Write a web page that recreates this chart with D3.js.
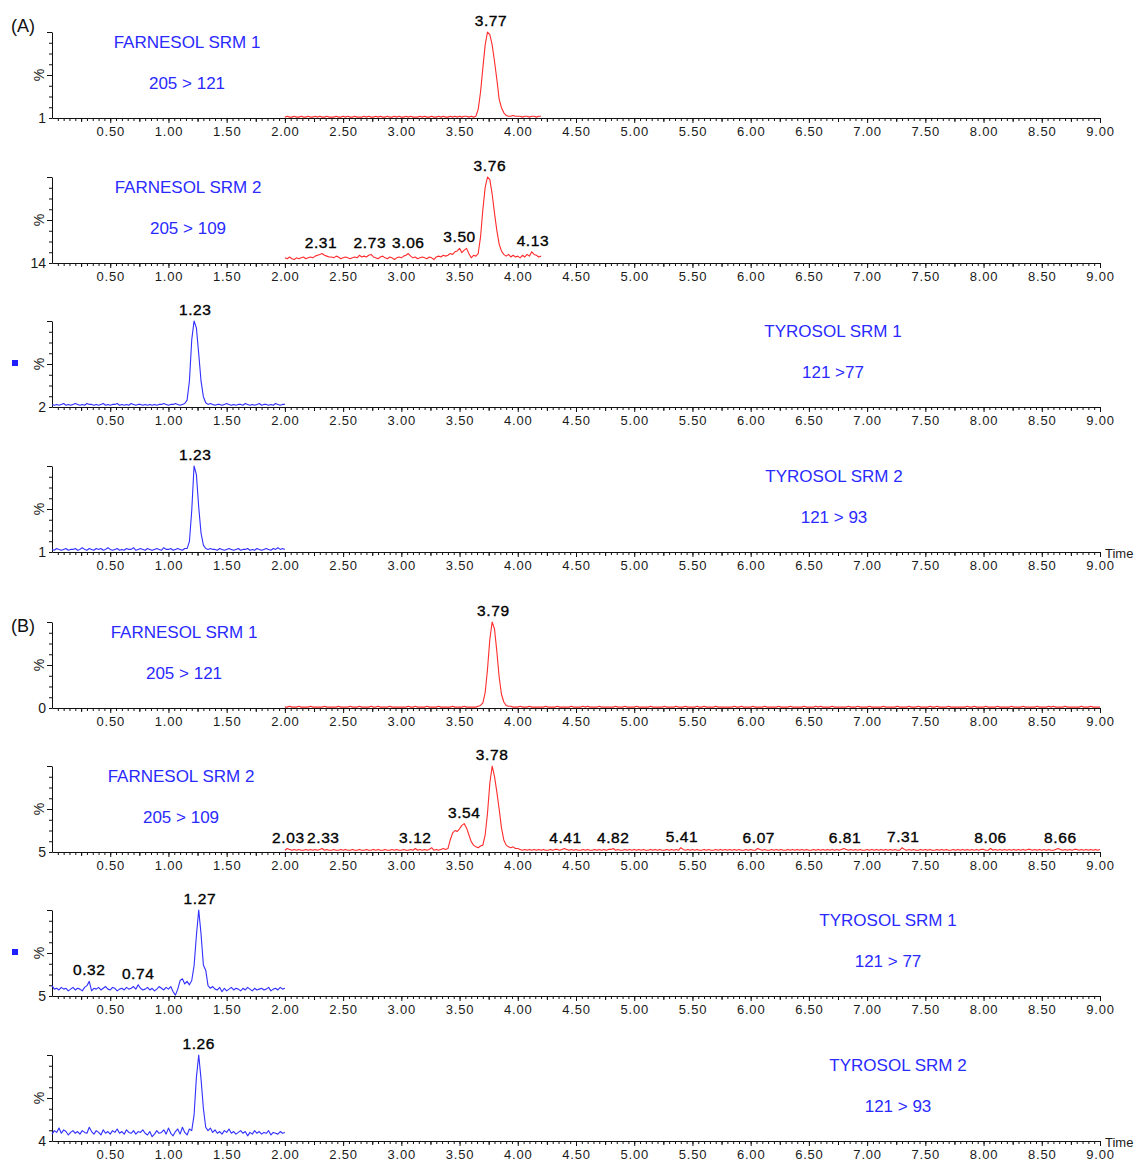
<!DOCTYPE html>
<html><head><meta charset="utf-8">
<script src="https://cdn.jsdelivr.net/npm/d3@7"></script>
<style>
body{margin:0;background:#fff;}
svg{display:block;font-family:"Liberation Sans",Arial,sans-serif;}
</style>
</head><body>
<svg id="chart" width="1137" height="1161"></svg>
<script>
// ---------------- DATA ----------------
// time axis (min)
const timeDomain = [0, 9];
const timeTickLabels = [0.5,1.0,1.5,2.0,2.5,3.0,3.5,4.0,4.5,5.0,5.5,6.0,6.5,7.0,7.5,8.0,8.5,9.0];
const sampleStep = 0.02; // min between samples

// Panel names / transitions / baseline labels
const groupLabels = ["(A)", "(B)"];
const panelNames = ["FARNESOL SRM 1","FARNESOL SRM 2","TYROSOL SRM 1","TYROSOL SRM 2",
                    "FARNESOL SRM 1","FARNESOL SRM 2","TYROSOL SRM 1","TYROSOL SRM 2"];
const panelTransitions = ["205 > 121","205 > 109","121 >77","121 > 93",
                          "205 > 121","205 > 109","121 > 77","121 > 93"];
const panelBaseLabels = ["1","14","2","1","0","5","5","4"];
const panelStarts = [2.00, 2.00, 0.00, 0.00, 2.00, 2.00, 0.00, 0.00];

// intensities (%) — each line covers 0.20 min
const a1Values = [
 1,2,1,1,2,1,1,2,1,1,   // 2.00
 2,1,1,2,1,2,1,1,2,1,   // 2.20
 1,1,2,1,1,2,1,2,1,1,   // 2.40
 2,1,1,1,2,1,2,1,1,2,   // 2.60
 1,2,1,1,2,1,1,2,1,2,   // 2.80
 1,1,2,1,2,1,1,1,2,1,   // 3.00
 2,1,1,2,1,1,2,1,2,1,   // 3.20
 1,2,1,2,1,2,1,2,2,1,   // 3.40
 2,1,2,10,30,58,85,100,97,85,  // 3.60
 66,45,22,12,6,3,2,2,3,2,      // 3.80
 2,2,1,2,2,1,2,2,1,2,   // 4.00
 2                      // 4.20
];
const a2Values = [
 6,5,7,5,4,6,5,6,7,5,   // 2.00
 6,7,6,8,9,10,11,9,8,7, // 2.20
 7,6,8,7,5,6,7,6,5,6,   // 2.40
 7,6,9,7,8,7,9,10,7,6,  // 2.60
 5,7,8,6,5,7,6,4,6,7,   // 2.80
 6,8,9,11,8,6,7,5,6,7,  // 3.00
 6,5,7,6,4,7,8,7,9,8,   // 3.20
 9,11,10,13,14,17,12,15,17,11, // 3.40
 6,9,8,11,30,62,88,100,97,80,  // 3.60
 58,38,22,14,10,8,10,7,9,7,    // 3.80
 8,6,9,7,10,8,13,10,9,7,       // 4.00
 8                             // 4.20
];
const a3Values = [
 3,2,3,2,3,4,2,3,2,3,   // 0.00
 4,3,2,3,2,4,3,3,2,3,   // 0.20
 2,3,4,2,3,2,3,3,4,2,   // 0.40
 3,2,3,2,4,3,2,3,3,2,   // 0.60
 3,2,3,2,3,2,3,3,4,3,   // 0.80
 2,3,3,4,3,2,3,4,8,30,  // 1.00
 78,100,92,62,30,12,5,3,4,3, // 1.20
 2,3,3,2,3,4,3,2,3,2,   // 1.40
 3,3,2,4,3,2,3,2,3,4,   // 1.60
 2,3,3,2,3,2,4,3,2,3,   // 1.80
 3                      // 2.00
];
const a4Values = [
 3,2,4,3,2,3,4,2,3,3,   // 0.00
 4,2,3,5,3,2,4,3,2,4,   // 0.20
 3,4,2,3,5,3,2,3,4,2,   // 0.40
 3,2,4,3,3,5,2,3,4,3,   // 0.60
 2,4,3,2,3,4,3,2,5,3,   // 0.80
 3,4,2,3,4,3,2,4,4,12,  // 1.00
 48,100,90,52,22,8,4,3,4,3, // 1.20
 3,2,4,3,2,3,4,3,2,3,   // 1.40
 4,2,3,3,4,2,3,2,4,3,   // 1.60
 2,3,4,3,2,4,3,5,3,4,   // 1.80
 3                      // 2.00
];
const b1Values = [
 1,1,2,1,1,1,2,1,1,1,  1,2,1,1,1,1,1,2,1,1,  // 2.00-2.38
 1,1,1,2,1,1,1,1,2,1,  1,1,2,1,1,1,1,2,1,1,  // 2.40-2.78
 2,1,1,1,1,2,1,1,1,1,  1,1,1,2,1,1,2,1,1,1,  // 2.80-3.18
 1,2,1,1,1,1,2,1,1,1,  1,1,2,1,1,1,1,2,1,1,  // 3.20-3.58
 1,1,1,2,3,6,18,45,80,100,                   // 3.60
 92,66,36,16,7,3,2,2,1,1,                    // 3.80
 1,2,1,1,1,2,1,1,1,1,  1,1,2,1,1,1,1,2,1,1,  // 4.00-4.38
 1,1,1,2,1,1,1,1,2,1,  2,1,1,1,1,2,1,1,1,1,  // 4.40-4.78
 1,1,2,1,1,1,2,1,1,1,  1,2,1,1,1,1,1,2,1,1,  // 4.80-5.18
 1,1,1,2,1,1,1,1,2,1,  1,1,2,1,1,1,1,2,1,1,  // 5.20-5.58
 2,1,1,1,1,2,1,1,1,1,  1,1,1,2,1,1,2,1,1,1,  // 5.60-5.98
 1,2,1,1,1,1,2,1,1,1,  1,1,2,1,1,1,1,2,1,1,  // 6.00-6.38
 1,1,1,2,1,1,1,1,2,1,  2,1,1,1,1,2,1,1,1,1,  // 6.40-6.78
 1,1,2,1,1,1,2,1,1,1,  1,2,1,1,1,1,1,2,1,1,  // 6.80-7.18
 1,1,1,2,1,1,1,1,2,1,  1,1,2,1,1,1,1,2,1,1,  // 7.20-7.58
 2,1,1,1,1,2,1,1,1,1,  1,1,1,2,1,1,2,1,1,1,  // 7.60-7.98
 1,2,1,1,1,1,2,1,1,1,  1,1,2,1,1,1,1,2,1,1,  // 8.00-8.38
 1,1,1,2,1,1,1,1,2,1,  2,1,1,1,1,2,1,1,1,1,  // 8.40-8.78
 1,1,2,1,1,1,2,1,1,1,                        // 8.80
 1                                           // 9.00
];
const b2Values = [
 2,4,3,2,3,2,3,2,2,3,   // 2.00
 2,3,2,3,2,3,4,2,3,2,   // 2.20
 2,3,2,2,3,2,3,2,2,3,   // 2.40
 2,2,3,2,2,3,2,2,3,2,   // 2.60
 3,2,2,3,2,2,3,2,3,2,   // 2.80
 2,3,2,2,3,2,4,2,3,2,   // 3.00
 3,2,3,5,2,3,2,3,4,3,   // 3.20
 4,14,22,25,24,27,31,33,28,20,   // 3.40
 12,8,6,5,7,8,20,45,80,100,      // 3.60
 88,70,50,28,14,8,6,5,6,4,       // 3.80
 4,3,2,3,2,3,2,3,2,3,   // 4.00
 2,3,2,2,3,2,3,3,2,3,   // 4.20
 4,3,2,3,2,3,2,2,3,2,   // 4.40
 3,2,2,3,2,3,2,3,2,3,   // 4.60
 3,4,2,3,2,2,3,2,3,2,   // 4.80
 3,2,3,2,3,2,2,3,2,3,   // 5.00
 2,3,2,2,3,2,3,2,3,2,   // 5.20
 5,3,2,3,2,3,2,3,2,2,   // 5.40
 3,2,3,2,2,3,2,3,2,3,   // 5.60
 2,3,2,3,2,3,2,2,3,2,   // 5.80
 3,2,2,4,3,2,3,2,2,3,   // 6.00
 2,3,2,3,2,2,3,2,3,2,   // 6.20
 3,2,3,2,3,2,2,3,2,3,   // 6.40
 2,3,2,3,2,3,2,3,2,3,   // 6.60
 4,3,2,3,2,3,2,3,2,2,   // 6.80
 3,2,3,2,3,2,3,2,3,2,   // 7.00
 3,2,3,2,2,5,3,2,3,2,   // 7.20
 3,2,2,3,2,3,2,3,2,2,   // 7.40
 3,2,3,2,3,2,2,3,2,3,   // 7.60
 2,3,2,3,2,3,2,3,2,3,   // 7.80
 3,2,2,4,2,3,2,3,2,3,   // 8.00
 2,3,2,3,2,3,2,3,2,3,   // 8.20
 3,2,3,2,3,2,3,2,3,2,   // 8.40
 2,3,4,3,2,3,2,3,2,3,   // 8.60
 3,2,3,2,3,2,3,2,3,2,   // 8.80
 3                      // 9.00
];
const b3Values = [
 12,8,9,7,10,8,9,6,8,10,    // 0.00
 7,9,8,6,10,12,17,6,9,8,    // 0.20
 10,7,9,11,8,7,10,9,6,8,    // 0.40
 9,7,10,8,9,11,8,13,9,7,    // 0.60
 8,10,7,9,6,8,11,9,7,10,    // 0.80
 8,11,5,1,8,18,20,14,17,13, // 1.00
 18,35,70,100,72,36,30,12,9,11, // 1.20
 8,7,10,5,9,6,8,10,7,9,     // 1.40
 8,6,9,7,10,8,6,9,7,8,      // 1.60
 9,7,8,10,6,8,9,7,10,8,     // 1.80
 9                          // 2.00
];
const b4Values = [
 8,12,10,15,9,13,11,7,10,12,  // 0.00
 9,11,8,12,10,9,16,11,8,12,   // 0.20
 10,7,13,9,11,8,12,10,14,9,   // 0.40
 11,8,13,10,9,12,8,11,10,13,  // 0.60
 9,7,11,5,8,12,9,10,13,8,     // 0.80
 15,9,6,11,14,8,16,10,7,14,   // 1.00
 12,30,74,100,72,38,16,12,15,10, // 1.20
 13,9,11,8,12,10,14,9,11,8,   // 1.40
 10,12,9,11,6,10,8,12,9,11,   // 1.60
 8,10,9,12,7,10,9,8,11,9,     // 1.80
 10                           // 2.00
];
const panelValues = [a1Values,a2Values,a3Values,a4Values,b1Values,b2Values,b3Values,b4Values];

// peak annotations (retention times)
const a1Peaks = ["3.77"];
const a2Peaks = ["2.31","2.73","3.06","3.50","3.76","4.13"];
const a3Peaks = ["1.23"];
const a4Peaks = ["1.23"];
const b1Peaks = ["3.79"];
const b2Peaks = ["2.03","2.33","3.12","3.54","3.78","4.41","4.82","5.41","6.07","6.81","7.31","8.06","8.66"];
const b3Peaks = ["0.32","0.74","1.27"];
const b4Peaks = ["1.26"];
const panelPeaks = [a1Peaks,a2Peaks,a3Peaks,a4Peaks,b1Peaks,b2Peaks,b3Peaks,b4Peaks];
const panelCompound = ["F","F","T","T","F","F","T","T"];

// ---------------- LAYOUT ----------------
const svg = d3.select("#chart");
const W = 1137, H = 1161;
const panelH = 86;
const bases = [118, 263, 407, 552, 708, 852, 996, 1141];
const titleX = [187, 188, 833, 834, 184, 181, 888, 898];
const groupY = [25, 625];
const colRed = "#ff2b2b", colBlue = "#3030ff", colText = "#2a2aff";

const x = d3.scaleLinear().domain(timeDomain).range([52, 1100]);

const minorTicks = d3.range(0, 181).map(i => i * 0.05).filter(v => v > 0);
const midTicks = d3.range(1, 37).map(i => i * 0.25).filter(v => Math.round(v*100) % 50 !== 0);

svg.append("rect").attr("width", W).attr("height", H).attr("fill", "#fff");

groupLabels.forEach((g, i) => {
  svg.append("text").attr("x", 11).attr("y", groupY[i] + 7)
    .attr("font-size", 18).attr("fill", "#111").text(g);
});

panelValues.forEach((vals, p) => {
  const base = bases[p];
  const top = base - panelH;
  const y = d3.scaleLinear().domain([0, 100]).range([base, top]);
  const g = svg.append("g");
  const color = panelCompound[p] === "F" ? colRed : colBlue;

  // x axis minor ticks
  g.append("g").attr("transform", `translate(0,${base})`)
    .call(d3.axisBottom(x).tickValues(minorTicks).tickSize(3).tickSizeOuter(0).tickFormat(""))
    .call(s => s.select(".domain").remove())
    .selectAll("line").attr("stroke", "#111");
  g.append("g").attr("transform", `translate(0,${base})`)
    .call(d3.axisBottom(x).tickValues(midTicks).tickSize(4).tickSizeOuter(0).tickFormat(""))
    .call(s => s.select(".domain").remove())
    .selectAll("line").attr("stroke", "#111");
  const xa = g.append("g").attr("transform", `translate(0,${base})`)
    .call(d3.axisBottom(x).tickValues(timeTickLabels).tickSize(5).tickSizeOuter(0)
      .tickPadding(4).tickFormat(d3.format(".2f")));
  xa.selectAll("text").attr("font-size", 13).attr("fill", "#1a1a1a")
    .attr("letter-spacing", "0.8px").attr("font-family", '"Liberation Sans",Arial,sans-serif');
  xa.selectAll("line, path").attr("stroke", "#111");

  // y axis
  const ya = g.append("g").attr("transform", `translate(${x(0)},0)`)
    .call(d3.axisLeft(y).tickValues(d3.range(0, 101, 12.5)).tickSize(3).tickSizeOuter(0).tickFormat(""));
  ya.selectAll("line, path").attr("stroke", "#111");
  ya.selectAll(".tick line").filter(d => d === 100 || d === 50).attr("x2", -5);

  // baseline label
  g.append("text").attr("x", 46).attr("y", base + 5).attr("text-anchor", "end")
    .attr("font-size", 14).attr("fill", "#1a1a1a").text(panelBaseLabels[p]);
  // % label
  g.append("text").attr("transform", `translate(44,${top + 43}) rotate(-90)`)
    .attr("text-anchor", "middle").attr("font-size", 14).attr("fill", "#1a1a1a").text("%");

  // blue marker for tyrosol SRM 1 panels
  if (p === 2 || p === 6) {
    g.append("rect").attr("x", 12).attr("y", top + 39).attr("width", 6).attr("height", 6).attr("fill", "#1f1fff");
  }

  // titles
  g.append("text").attr("x", titleX[p]).attr("y", top + 16).attr("text-anchor", "middle")
    .attr("font-size", 17).attr("fill", colText).text(panelNames[p]);
  g.append("text").attr("x", titleX[p]).attr("y", top + 57).attr("text-anchor", "middle")
    .attr("font-size", 17).attr("fill", colText).text(panelTransitions[p]);

  // trace
  const t0 = panelStarts[p];
  const line = d3.line().x((d, i) => x(t0 + i * sampleStep)).y(d => y(d));
  g.append("path").datum(vals).attr("d", line).attr("fill", "none")
    .attr("stroke", color).attr("stroke-width", 1.1).attr("stroke-linejoin", "round");

  // peak labels
  panelPeaks[p].forEach(lbl => {
    const t = +lbl;
    let m = 0;
    vals.forEach((v, i) => { if (Math.abs(t0 + i * sampleStep - t) <= 0.031) m = Math.max(m, v); });
    g.append("text").attr("x", x(t)).attr("y", y(m) - 6).attr("text-anchor", "middle")
      .attr("font-size", 15.5).attr("letter-spacing", "0.6px").attr("fill", "#000")
      .attr("stroke", "#000").attr("stroke-width", 0.35).text(lbl);
  });

  if (p === 3 || p === 7) {
    g.append("text").attr("x", 1105).attr("y", base + 6).attr("font-size", 13)
      .attr("fill", "#1a1a1a").text("Time");
  }
});
</script>
</body></html>
